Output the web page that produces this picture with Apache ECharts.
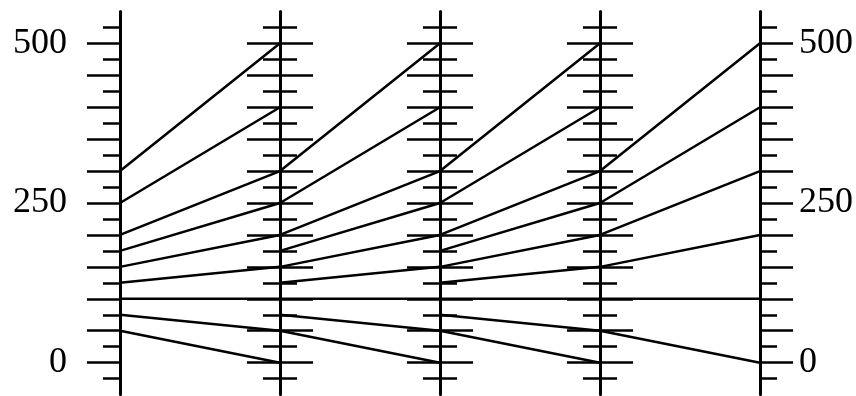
<!DOCTYPE html>
<html><head><meta charset="utf-8">
<script src="https://cdn.jsdelivr.net/npm/echarts@6/dist/echarts.min.js"></script>
<style>html,body{margin:0;padding:0;background:#fff}#c{width:856px;height:396px}</style>
</head><body><div id="c"></div>
<script>
// Parallel axes (5 identical axes)
const axisCount = 5;
const axisMin = -50;
const axisMax = 550;
// Line segments between consecutive axes: start value on axis k, end value on axis k+1
const seg1Start = [300, 250, 200, 175, 150, 125, 100, 75, 50];
const seg1End   = [500, 400, 300, 250, 200, 150, 100, 50, 0];
const seg2Start = [300, 250, 200, 175, 150, 125, 100, 75, 50];
const seg2End   = [500, 400, 300, 250, 200, 150, 100, 50, 0];
const seg3Start = [300, 250, 200, 175, 150, 125, 100, 75, 50];
const seg3End   = [500, 400, 300, 250, 200, 150, 100, 50, 0];
const seg4Start = [300, 250, 200, 150, 100, 50];
const seg4End   = [500, 400, 300, 200, 100, 0];
// Ticks and labels
const majorTicks = [0, 50, 100, 150, 200, 250, 300, 350, 400, 450, 500];
const minorTicks = [-25, 25, 75, 125, 175, 225, 275, 325, 375, 425, 475, 525];
const labelValues = [0, 250, 500];

const segStarts = [seg1Start, seg2Start, seg3Start, seg4Start];
const segEnds = [seg1End, seg2End, seg3End, seg4End];
const lineData = [];
segStarts.forEach(function (starts, k) {
  starts.forEach(function (v, i) {
    const row = new Array(axisCount).fill(null);
    row[k] = v;
    row[k + 1] = segEnds[k][i];
    lineData.push(row);
  });
});

const FONT = "'Liberation Serif','Times New Roman',serif";
const rect = { left: 120, right: 96, top: 11.4, bottom: 1.4 };

// 4 overlapping parallel components: long-left, long-right, short-left, short-right ticks
const variants = [
  { ticks: majorTicks, len: 33, side: 'left', line: true },
  { ticks: majorTicks, len: 33, side: 'right', line: false },
  { ticks: minorTicks, len: 17, side: 'left', line: false },
  { ticks: minorTicks, len: 17, side: 'right', line: false }
];
const parallel = variants.map(function () {
  return Object.assign({ layout: 'horizontal' }, rect);
});
const hiddenLabel = { show: false, formatter: function () { return ''; }, color: 'rgba(0,0,0,0)', fontSize: 1 };
const parallelAxis = [];
variants.forEach(function (vr, p) {
  for (let d = 0; d < axisCount; d++) {
    const showTick = vr.side === 'left' ? d < axisCount - 1 : d > 0;
    let label = hiddenLabel;
    if (p === 0 && d === 0) {
      label = { show: true, inside: false, margin: -53, align: 'right', customValues: labelValues,
        fontFamily: FONT, fontSize: 36, color: '#000' };
    }
    if (p === 1 && d === axisCount - 1) {
      label = { show: true, inside: false, margin: 39, align: 'left', customValues: labelValues,
        fontFamily: FONT, fontSize: 36, color: '#000' };
    }
    parallelAxis.push({
      dim: d, parallelIndex: p, type: 'value', name: '',
      min: axisMin, max: axisMax, interval: 50,
      axisLine: { show: vr.line, lineStyle: { color: '#000', width: 3 } },
      axisTick: { show: showTick, inside: false, length: vr.side === 'left' ? -vr.len : vr.len,
        customValues: vr.ticks, lineStyle: { color: '#000', width: 2.5 } },
      axisLabel: label,
      splitLine: { show: false }
    });
  }
});

const series = variants.map(function (vr, p) {
  return {
    type: 'parallel', parallelIndex: p, silent: true,
    lineStyle: { color: '#000', width: 2.5, opacity: 1 },
    emphasis: { disabled: true },
    data: p === 0 ? lineData : []
  };
});

const chart = echarts.init(document.getElementById('c'), null, { renderer: 'canvas' });
chart.setOption({
  animation: false,
  backgroundColor: '#fff',
  parallel: parallel,
  parallelAxis: parallelAxis,
  series: series
});
</script></body></html>
